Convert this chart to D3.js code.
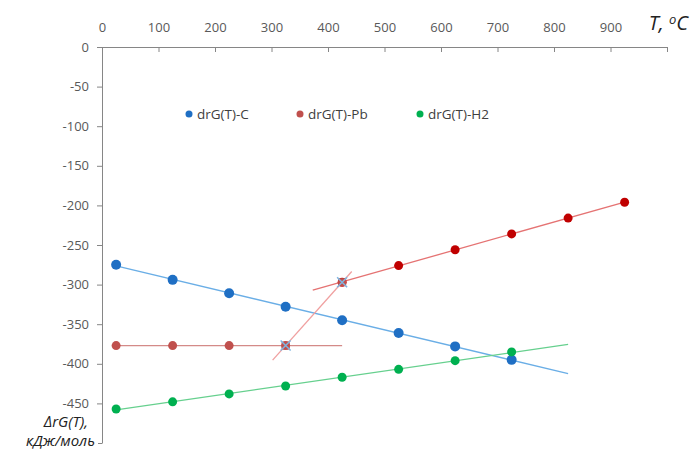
<!DOCTYPE html>
<head>
<meta charset="utf-8">
<style>
body { margin: 0; background: #fff; }
text { font-family: "Open Sans", "Noto Sans", sans-serif; }
.tick text { fill: #595959; font-size: 13px; }
.domain, .tick line { stroke: #868686; }
</style>
</head>
<body>
<script src="https://cdn.jsdelivr.net/npm/d3@7/dist/d3.min.js"></script>
<script>
// temperatures, degrees C
var tempC = [25, 125, 225, 325, 425, 525, 625, 725];
var drgC = [-275, -294, -311, -328, -345, -361, -378, -395];

var tempPbLow = [25, 125, 225, 325];
var drgPbLow = [-377, -377, -377, -377];

var tempPbHigh = [425, 525, 625, 725, 825, 925];
var drgPbHigh = [-297, -276, -256, -236, -216, -196];

// phase change points (crossed markers)
var tempPbJump = [325, 425];
var drgPbJump = [-377, -297];

var drgH2 = [-457, -448, -438, -428, -417, -407, -396, -385];

var xTicks = [0, 100, 200, 300, 400, 500, 600, 700, 800, 900, 1000];
var yTicks = [0, -50, -100, -150, -200, -250, -300, -350, -400, -450, -500];

var legendNames = ["drG(T)-C", "drG(T)-Pb", "drG(T)-H2"];

var width = 693, height = 450;

var svg = d3.select("body").append("svg")
    .attr("width", width)
    .attr("height", height);

var x = d3.scaleLinear().domain([0, 1000]).range([102, 667]);
var y = d3.scaleLinear().domain([0, -500]).range([47, 443]);

// top axis
var xAxis = svg.append("g")
    .attr("transform", "translate(0," + y(0) + ")")
    .call(d3.axisTop(x).tickValues(xTicks).tickSize(-5).tickSizeOuter(0)
      .tickFormat(function(d) { return d === 1000 ? "" : d; }));
xAxis.selectAll(".tick text").attr("dy", "-12px");

var yAxis = svg.append("g")
    .attr("transform", "translate(" + x(0) + ",0)")
    .call(d3.axisLeft(y).tickValues(yTicks).tickSize(5).tickSizeOuter(0)
      .tickFormat(function(d) { return d === -500 ? "" : d; }));
yAxis.selectAll(".tick text").attr("x", -13);

// linear fit, used for the trend lines
function fit(xs, ys) {
  var mx = d3.mean(xs), my = d3.mean(ys);
  var num = 0, den = 0;
  xs.forEach(function(v, i) { num += (v - mx) * (ys[i] - my); den += (v - mx) * (v - mx); });
  var b = den ? num / den : 0;
  return function(t) { return my + b * (t - mx); };
}

function trend(xs, ys, t0, t1, color) {
  var f = fit(xs, ys);
  svg.append("line")
      .attr("x1", x(t0)).attr("y1", y(f(t0)))
      .attr("x2", x(t1)).attr("y2", y(f(t1)))
      .attr("stroke", color)
      .attr("stroke-width", 1.3);
}

trend(tempC, drgC, 25, 825, "#6aaee6");
trend(tempPbLow, drgPbLow, 25, 425, "#d48a88");
trend(tempPbHigh, drgPbHigh, 373, 925, "#e57373");
trend(tempPbJump, drgPbJump, 302, 442, "#f0a0a0");
trend(tempC, drgH2, 25, 825, "#66d08e");

function dots(xs, ys, r, color) {
  svg.append("g").selectAll("circle")
      .data(xs)
      .enter().append("circle")
      .attr("cx", function(d) { return x(d); })
      .attr("cy", function(d, i) { return y(ys[i]); })
      .attr("r", r)
      .attr("fill", color);
}

dots(tempC, drgC, 5, "#1f6fc4");
dots(tempPbLow, drgPbLow, 4.5, "#c0504d");
dots(tempPbHigh, drgPbHigh, 4.5, "#c00000");
dots(tempC, drgH2, 4.5, "#00b050");

// crossed markers on the jump
var jump = svg.append("g").selectAll("g")
    .data(tempPbJump)
    .enter().append("g")
    .attr("transform", function(d, i) { return "translate(" + x(d) + "," + y(drgPbJump[i]) + ")"; });
jump.append("rect")
    .attr("x", -4).attr("y", -4).attr("width", 8).attr("height", 8)
    .attr("fill", "#c0504d");
jump.append("path")
    .attr("d", "M-5,-5L5,5M-5,5L5,-5")
    .attr("stroke", "#7fb5e0")
    .attr("stroke-width", 1.5);

// legend
var legendColors = ["#1f6fc4", "#c0504d", "#00b050"];
var legendX = [189, 300, 420];
var legend = svg.append("g").selectAll("g")
    .data(legendNames)
    .enter().append("g")
    .attr("transform", function(d, i) { return "translate(" + legendX[i] + ",114)"; });
legend.append("circle").attr("r", 3.5)
    .attr("fill", function(d, i) { return legendColors[i]; });
legend.append("text")
    .attr("x", 8).attr("dy", "0.35em")
    .style("font-size", "13.5px")
    .attr("fill", "#404040")
    .text(function(d) { return d; });

// axis titles
var tTitle = svg.append("text")
    .attr("x", 688).attr("y", 30)
    .attr("text-anchor", "end")
    .style("font-size", "20px")
    .style("font-style", "italic")
    .attr("fill", "#222");
tTitle.append("tspan").text("T, ");
tTitle.append("tspan").attr("dy", "-6").style("font-size", "13px").text("o");
tTitle.append("tspan").attr("dy", "6").text("C");

svg.append("rect")
    .attr("x", 12).attr("y", 409).attr("width", 86).attr("height", 41)
    .attr("fill", "#fff");
svg.append("text")
    .attr("x", 88).attr("y", 427)
    .attr("text-anchor", "end")
    .style("font-size", "15px")
    .style("font-style", "italic")
    .attr("fill", "#222")
    .text("ΔrG(T),");
svg.append("text")
    .attr("x", 95).attr("y", 446)
    .attr("text-anchor", "end")
    .style("font-size", "15px")
    .style("font-style", "italic")
    .attr("fill", "#222")
    .text("кДж/моль");
</script>
</body>
